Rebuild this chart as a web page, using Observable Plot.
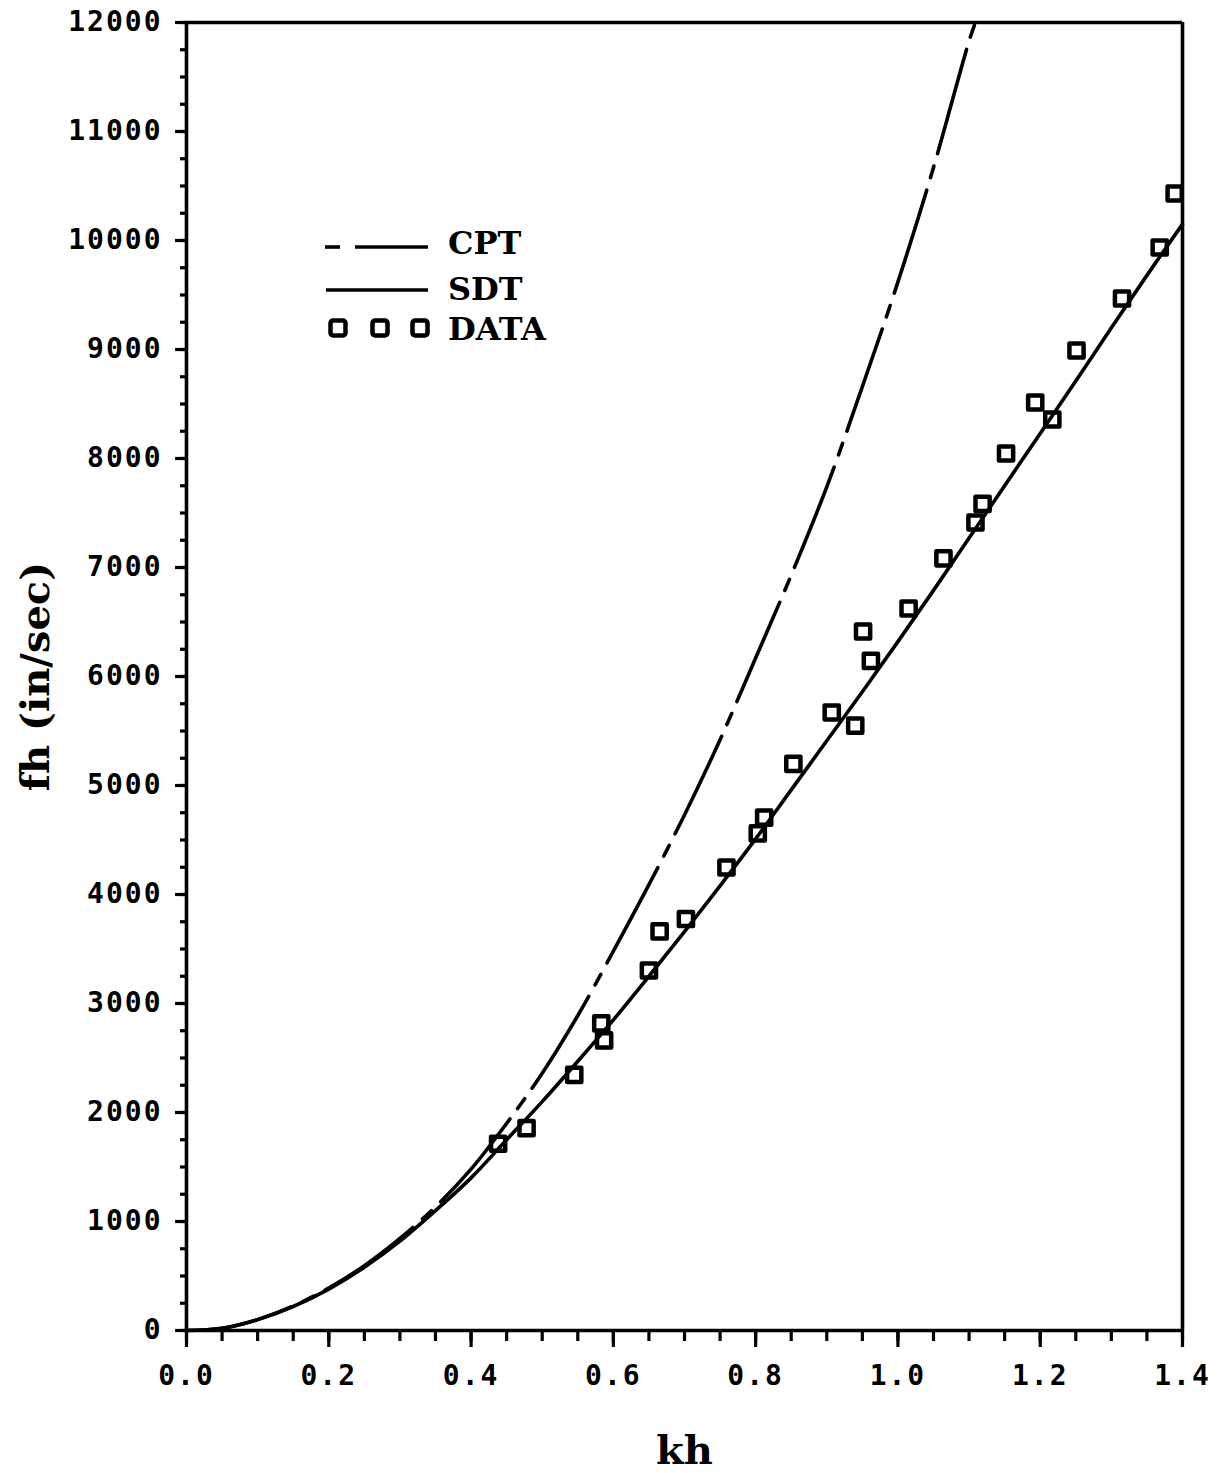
<!DOCTYPE html>
<html>
<head>
<meta charset="utf-8">
<script src="https://cdn.jsdelivr.net/npm/d3@7"></script>
<script src="https://cdn.jsdelivr.net/npm/@observablehq/plot@0.6"></script>
<style>
  body { margin: 0; background: #fff; }
  #chart svg { display: block; }
  g[aria-label="y-axis tick label"] text,
  g[aria-label="x-axis tick label"] text { letter-spacing: 2px; }
</style>
</head>
<body>
<div id="chart"></div>
<script>
// Measured data: phase-velocity product fh versus kh
const dataKh = [0.438, 0.478, 0.545, 0.583, 0.587, 0.650, 0.665, 0.702, 0.759, 0.803, 0.812, 0.853, 0.907, 0.940,
                0.951, 0.962, 1.015, 1.064, 1.109, 1.119, 1.152, 1.193, 1.217, 1.251, 1.315, 1.368, 1.389];
const dataFh = [1713, 1856, 2346, 2817, 2661, 3303, 3661, 3775, 4248, 4560, 4706, 5199, 5670, 5550,
                6413, 6144, 6624, 7083, 7413, 7584, 8046, 8514, 8358, 8991, 9468, 9936, 10431];

// SDT theory curve
const sdtKh = [0, 0.05, 0.10, 0.15, 0.20, 0.25, 0.30, 0.35, 0.40, 0.45, 0.50, 0.55, 0.60, 0.65, 0.70,
               0.75, 0.80, 0.85, 0.90, 0.95, 1.00, 1.05, 1.10, 1.15, 1.20, 1.25, 1.30, 1.35, 1.40];
const sdtFh = [0, 20, 100, 220, 380, 580, 820, 1100, 1400, 1750, 2100, 2470, 2850, 3250, 3660,
               4080, 4510, 4960, 5410, 5860, 6320, 6790, 7270, 7750, 8230, 8710, 9200, 9680, 10150];

// CPT theory curve
const cptKh = [0, 0.05, 0.10, 0.15, 0.20, 0.25, 0.30, 0.35, 0.40, 0.45, 0.50, 0.55, 0.60, 0.65, 0.70,
               0.75, 0.80, 0.85, 0.90, 0.95, 1.00, 1.05, 1.10, 1.109];
const cptFh = [0, 20, 100, 225, 390, 595, 845, 1135, 1480, 1900, 2360, 2890, 3480, 4090, 4730,
               5420, 6170, 6930, 7740, 8660, 9620, 10670, 11830, 12000];

// Axis ticks
const xMajor = [0, 0.2, 0.4, 0.6, 0.8, 1.0, 1.2, 1.4];
const xMinor = d3.range(0, 29).map(i => i * 0.05);
const yMajor = d3.range(0, 13).map(i => i * 1000);
const yMinor = d3.range(0, 49).map(i => i * 250);

const legendLabels = ["CPT", "SDT", "DATA"];

const dataRows = dataKh.map((k, i) => ({kh: k, fh: dataFh[i]}));
const sdtRows = sdtKh.map((k, i) => ({kh: k, fh: sdtFh[i]}));
const cptRows = cptKh.map((k, i) => ({kh: k, fh: cptFh[i]}));

const tickFont = {fontFamily: "DejaVu Sans Mono", fontSize: 28, fontWeight: "bold"};
const labelFont = {fontFamily: "DejaVu Serif", fontWeight: "bold", fill: "black"};
const CPT_DASH = "108,13,12,13";
const LW = 3.6;

const chart = Plot.plot({
  width: 1223,
  height: 1473,
  marginLeft: 186,
  marginRight: 41,
  marginTop: 22,
  marginBottom: 143,
  style: {background: "white", color: "black", overflow: "visible"},
  x: {domain: [0, 1.4]},
  y: {domain: [0, 12000]},
  marks: [
    // minor ticks
    Plot.axisY(yMinor, {tickSize: 6, tickFormat: () => "", strokeWidth: 3.2, label: null}),
    Plot.axisX(xMinor, {tickSize: 11, tickFormat: () => "", strokeWidth: 3.2, label: null}),
    // major ticks with labels
    Plot.axisY(yMajor, {tickSize: 11, tickPadding: 13, tickFormat: d => String(d), strokeWidth: 3.2, label: null, ...tickFont}),
    Plot.axisX(xMajor, {tickSize: 17, tickPadding: 18, tickFormat: d3.format(".1f"), strokeWidth: 3.2, label: null, ...tickFont}),
    // frame
    Plot.ruleX([0], {strokeWidth: LW}),
    Plot.ruleY([0], {strokeWidth: LW}),
    Plot.ruleY([12000], {strokeWidth: LW}),
    Plot.ruleX([1.4], {strokeWidth: LW}),
    // curves
    Plot.line(sdtRows, {x: "kh", y: "fh", curve: "catmull-rom", strokeWidth: LW}),
    Plot.line(cptRows, {x: "kh", y: "fh", curve: "catmull-rom", strokeWidth: LW, strokeDasharray: CPT_DASH, clip: true}),
    // data
    Plot.dot(dataRows, {x: "kh", y: "fh", symbol: "square", r: 8, stroke: "black", strokeWidth: 4.5, strokeLinejoin: "round"}),
    // axis titles
    Plot.text(["fh (in/sec)"], {frameAnchor: "left", dx: -150, rotate: -90, textAnchor: "middle", lineAnchor: "middle", fontSize: 40, ...labelFont}),
    Plot.text(["kh"], {frameAnchor: "bottom", dy: 121, textAnchor: "middle", lineAnchor: "middle", fontSize: 40, ...labelFont})
  ]
});

document.getElementById("chart").appendChild(chart);

// Legend inside the plot area
const svg = d3.select(chart);
const lg = svg.append("g").attr("stroke", "black").attr("fill", "none").attr("stroke-width", LW);
// CPT sample: short dash then long dash
lg.append("line").attr("x1", 325).attr("x2", 340).attr("y1", 247).attr("y2", 247);
lg.append("line").attr("x1", 355).attr("x2", 428).attr("y1", 247).attr("y2", 247);
// SDT sample
lg.append("line").attr("x1", 326).attr("x2", 428).attr("y1", 290).attr("y2", 290);
// DATA sample
[338, 380, 420].forEach(cx => {
  lg.append("rect").attr("x", cx - 7.5).attr("y", 328 - 7.5).attr("width", 15).attr("height", 15)
    .attr("rx", 2.5).attr("stroke-width", 4.5);
});
const ly = [242, 288, 328];
svg.append("g")
  .attr("font-family", "DejaVu Serif")
  .attr("font-weight", "bold")
  .attr("font-size", 32)
  .attr("text-anchor", "start")
  .selectAll("text")
  .data(legendLabels)
  .join("text")
  .attr("x", 448)
  .attr("y", (d, i) => ly[i])
  .attr("dy", "0.36em")
  .attr("fill", "black")
  .text(d => d);
</script>
</body>
</html>
